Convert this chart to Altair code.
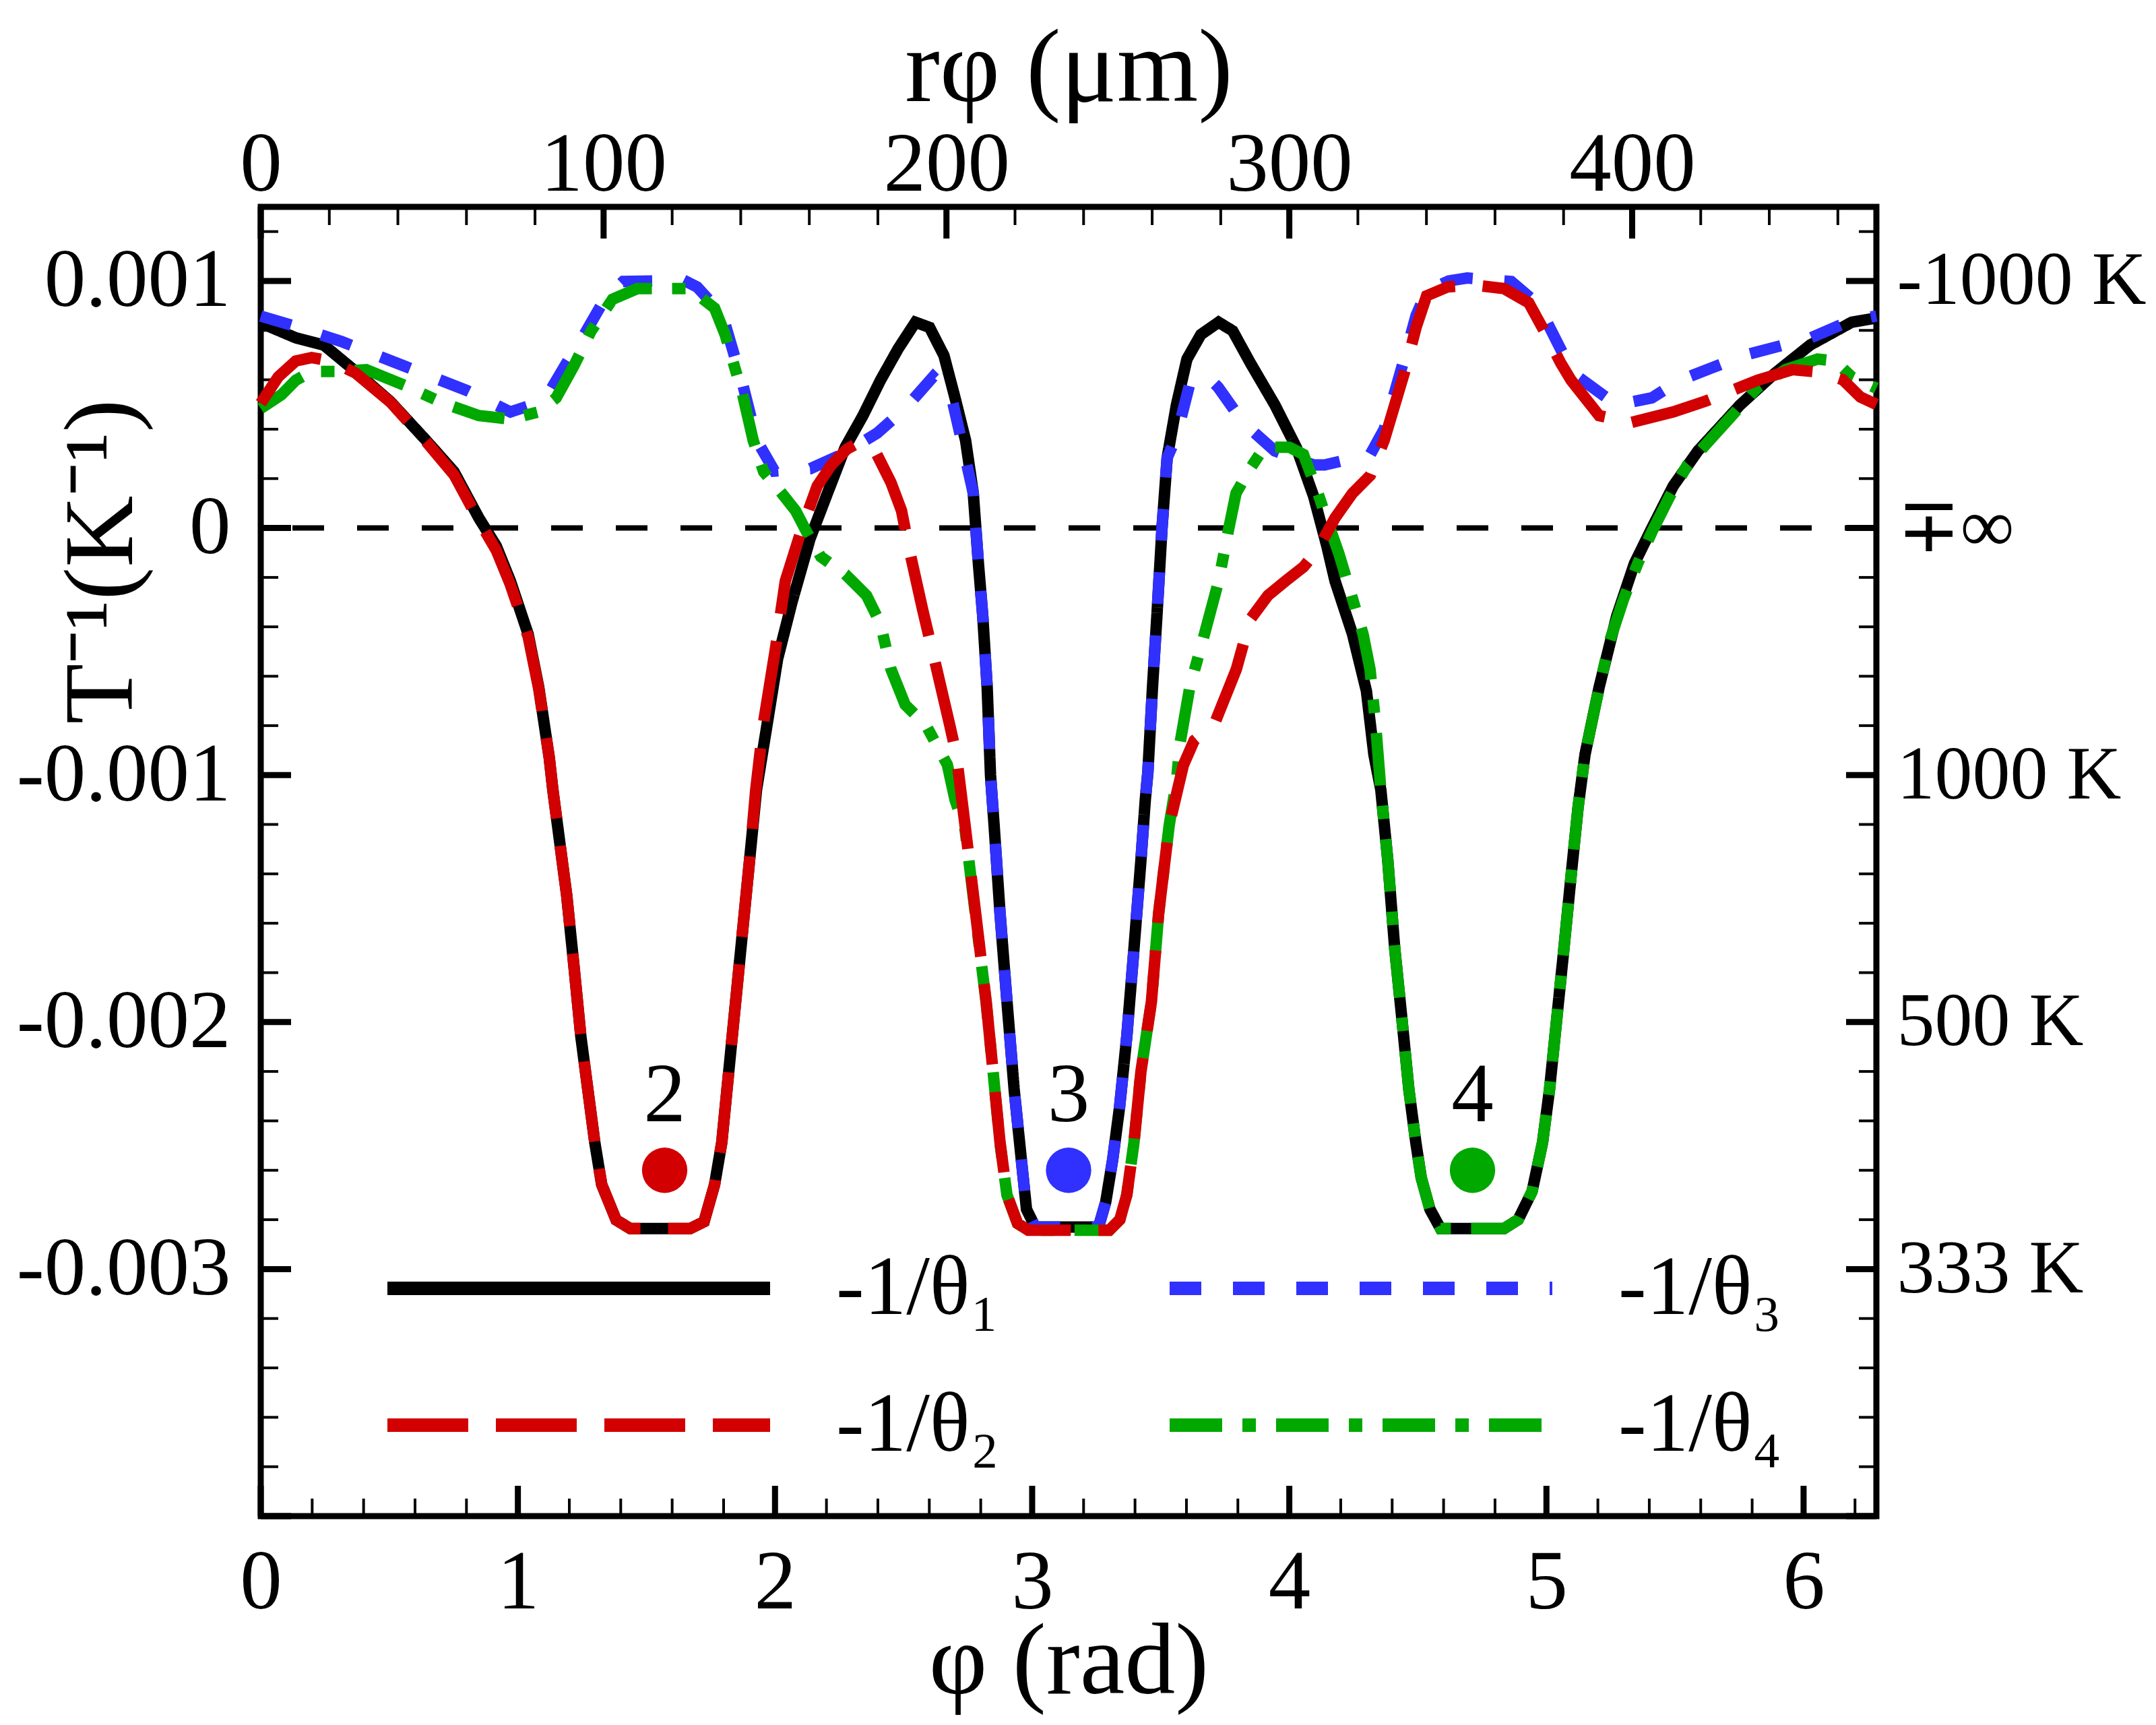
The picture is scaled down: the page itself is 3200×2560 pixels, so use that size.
import math
import altair as alt
import pandas as pd

FONT = "Liberation Serif, Times New Roman, serif"
W, H = 2398, 1943
R_UM = 75.0
PHI_MAX = 2 * math.pi
T_MIN, T_MAX = -4.0, 1.3  # units of 1e-3 K^-1

S1, S2, S3, S4 = "-1/θ₁", "-1/θ₂", "-1/θ₃", "-1/θ₄"

# ---- series -1/theta_1 (black, solid) ----
phi1 = [0.000, 0.136, 0.246, 0.369, 0.504, 0.643, 0.752, 0.848, 0.916, 0.971,
        1.040, 1.081, 1.122, 1.136, 1.163, 1.190, 1.218, 1.245, 1.272, 1.299,
        1.326, 1.382, 1.437, 1.670, 1.724, 1.765, 1.793, 1.820, 1.847, 1.874,
        1.901, 1.928, 1.970, 2.010, 2.066, 2.136, 2.204, 2.273, 2.342, 2.410,
        2.479, 2.546, 2.601, 2.657, 2.700, 2.741, 2.771, 2.791, 2.808, 2.825,
        2.838, 2.852, 2.875, 2.902, 2.930, 2.958, 2.978, 3.012, 3.258, 3.286,
        3.313, 3.340, 3.368, 3.396, 3.423, 3.440, 3.450, 3.468, 3.485, 3.505,
        3.525, 3.561, 3.602, 3.656, 3.725, 3.780, 3.848, 3.944, 4.027, 4.095,
        4.146, 4.178, 4.246, 4.300, 4.329, 4.356, 4.383, 4.410, 4.438, 4.465,
        4.492, 4.513, 4.547, 4.588, 4.835, 4.890, 4.944, 4.985, 5.012, 5.040,
        5.068, 5.095, 5.123, 5.150, 5.205, 5.273, 5.342, 5.410, 5.493, 5.589,
        5.753, 5.889, 6.026, 6.187, 6.2832]
t1 = [0.830, 0.770, 0.740, 0.634, 0.512, 0.355, 0.227, 0.041, -0.073, -0.215,
      -0.430, -0.644, -0.930, -1.060, -1.274, -1.488, -1.773, -2.059, -2.273, -2.487,
      -2.658, -2.801, -2.836, -2.836, -2.808, -2.658, -2.487, -2.201, -1.916, -1.630,
      -1.345, -1.060, -0.790, -0.530, -0.300, -0.044, 0.141, 0.327, 0.455, 0.598,
      0.726, 0.833, 0.812, 0.698, 0.527, 0.355, 0.141, -0.144, -0.358, -0.644,
      -1.000, -1.203, -1.559, -1.916, -2.273, -2.558, -2.758, -2.830, -2.830, -2.729,
      -2.558, -2.344, -2.059, -1.702, -1.345, -1.100, -0.988, -0.644, -0.358, 0.000,
      0.284, 0.498, 0.684, 0.783, 0.833, 0.798, 0.669, 0.498, 0.327, 0.127,
      -0.073, -0.215, -0.430, -0.660, -0.917, -1.060, -1.345, -1.702, -1.988, -2.273,
      -2.487, -2.630, -2.758, -2.836, -2.836, -2.800, -2.686, -2.487, -2.273, -1.988,
      -1.702, -1.417, -1.131, -0.917, -0.644, -0.358, -0.144, 0.000, 0.170, 0.312,
      0.498, 0.627, 0.741, 0.833, 0.850]

# ---- series -1/theta_2 (red, long dash) ----
phi2 = [0.000, 0.068, 0.136, 0.198, 0.273, 0.369, 0.504, 0.643, 0.752, 0.848,
        0.916, 0.971, 1.040, 1.081, 1.122, 1.136, 1.163, 1.190, 1.218, 1.245,
        1.272, 1.299, 1.326, 1.382, 1.437, 1.670, 1.724, 1.765, 1.793, 1.820,
        1.847, 1.874, 1.901, 1.925, 1.955, 2.000, 2.040, 2.105, 2.164, 2.219,
        2.280, 2.329, 2.396, 2.451, 2.492, 2.519, 2.574, 2.629, 2.680, 2.705,
        2.739, 2.780, 2.821, 2.848, 2.875, 2.902, 2.943, 2.985, 3.300, 3.341,
        3.368, 3.396, 3.423, 3.464, 3.492, 3.533, 3.588, 3.630, 3.710, 3.794,
        3.848, 3.917, 3.985, 4.055, 4.110, 4.178, 4.246, 4.315, 4.369, 4.410,
        4.451, 4.493, 4.534, 4.616, 4.725, 4.835, 4.931, 4.999, 5.055, 5.096,
        5.205, 5.329, 5.493, 5.615, 5.821, 5.957, 6.068, 6.153, 6.221, 6.2832]
t2 = [0.505, 0.612, 0.676, 0.690, 0.676, 0.627, 0.510, 0.350, 0.215, 0.030,
      -0.090, -0.230, -0.440, -0.650, -0.930, -1.060, -1.274, -1.488, -1.773, -2.059,
      -2.273, -2.487, -2.658, -2.801, -2.836, -2.836, -2.808, -2.658, -2.487, -2.201,
      -1.916, -1.630, -1.345, -1.060, -0.790, -0.500, -0.215, 0.000, 0.170, 0.255,
      0.320, 0.348, 0.298, 0.184, 0.070, -0.073, -0.330, -0.572, -0.800, -0.917,
      -1.203, -1.559, -1.916, -2.201, -2.487, -2.700, -2.815, -2.843, -2.843, -2.800,
      -2.700, -2.487, -2.201, -1.916, -1.559, -1.203, -0.960, -0.860, -0.790, -0.572,
      -0.370, -0.273, -0.215, -0.158, -0.087, 0.041, 0.141, 0.213, 0.355, 0.498,
      0.641, 0.812, 0.940, 0.976, 0.983, 0.969, 0.912, 0.783, 0.669, 0.598,
      0.455, 0.427, 0.470, 0.512, 0.598, 0.641, 0.630, 0.600, 0.530, 0.500]

# ---- series -1/theta_3 (blue, short dash) ----
phi3 = [0.000, 0.123, 0.314, 0.560, 0.805, 0.971, 1.054, 1.121, 1.190, 1.258,
        1.341, 1.409, 1.532, 1.641, 1.697, 1.765, 1.806, 1.874, 1.929, 1.998,
        2.137, 2.260, 2.397, 2.506, 2.615, 2.684, 2.725, 2.771, 2.791, 2.808,
        2.825, 2.838, 2.852, 2.875, 2.902, 2.930, 2.958, 2.978, 3.012, 3.258,
        3.286, 3.313, 3.340, 3.368, 3.396, 3.423, 3.440, 3.450, 3.468, 3.485,
        3.505, 3.525, 3.561, 3.613, 3.683, 3.724, 3.820, 3.944, 4.095, 4.137,
        4.315, 4.369, 4.410, 4.451, 4.493, 4.534, 4.620, 4.692, 4.863, 4.944,
        4.999, 5.082, 5.123, 5.273, 5.410, 5.519, 5.766, 6.026, 6.187, 6.2832]
t3 = [0.858, 0.820, 0.755, 0.655, 0.555, 0.470, 0.498, 0.548, 0.669, 0.783,
      0.933, 0.998, 1.000, 1.005, 0.976, 0.898, 0.826, 0.584, 0.355, 0.230,
      0.240, 0.298, 0.384, 0.484, 0.612, 0.541, 0.355, 0.141, -0.144, -0.358,
      -0.644, -1.000, -1.203, -1.559, -1.916, -2.273, -2.558, -2.758, -2.830, -2.830,
      -2.729, -2.558, -2.344, -2.059, -1.702, -1.345, -1.100, -0.988, -0.644, -0.358,
      0.000, 0.284, 0.370, 0.584, 0.612, 0.569, 0.427, 0.312, 0.255, 0.255,
      0.298, 0.400, 0.550, 0.700, 0.860, 0.960, 1.000, 1.012, 0.998, 0.926,
      0.840, 0.669, 0.612, 0.498, 0.527, 0.598, 0.698, 0.769, 0.841, 0.858]

# ---- series -1/theta_4 (green, dash-dot) ----
phi4 = [0.000, 0.081, 0.136, 0.198, 0.300, 0.410, 0.560, 0.711, 0.848, 0.971,
        1.081, 1.149, 1.217, 1.285, 1.368, 1.464, 1.668, 1.765, 1.806, 1.874,
        1.915, 1.956, 2.026, 2.080, 2.123, 2.178, 2.273, 2.356, 2.410, 2.451,
        2.506, 2.588, 2.670, 2.700, 2.739, 2.780, 2.821, 2.848, 2.875, 2.902,
        2.943, 2.985, 3.300, 3.341, 3.368, 3.396, 3.423, 3.464, 3.492, 3.533,
        3.561, 3.575, 3.613, 3.670, 3.725, 3.765, 3.793, 3.848, 3.903, 4.000,
        4.055, 4.105, 4.146, 4.192, 4.246, 4.287, 4.314, 4.335, 4.356, 4.383,
        4.410, 4.438, 4.465, 4.492, 4.513, 4.547, 4.588, 4.835, 4.890, 4.944,
        4.985, 5.012, 5.040, 5.068, 5.095, 5.123, 5.150, 5.191, 5.246, 5.300,
        5.355, 5.410, 5.479, 5.548, 5.684, 5.821, 5.930, 6.054, 6.122, 6.187,
        6.2832]
t4 = [0.484, 0.540, 0.598, 0.634, 0.634, 0.641, 0.577, 0.505, 0.455, 0.441,
      0.470, 0.527, 0.655, 0.798, 0.926, 0.969, 0.969, 0.890, 0.783, 0.541,
      0.355, 0.227, 0.141, 0.070, -0.016, -0.116, -0.187, -0.273, -0.387, -0.572,
      -0.715, -0.800, -0.958, -1.100, -1.220, -1.570, -1.920, -2.200, -2.490, -2.700,
      -2.815, -2.843, -2.843, -2.800, -2.700, -2.487, -2.200, -1.916, -1.559, -1.203,
      -1.026, -0.872, -0.644, -0.430, -0.215, 0.000, 0.141, 0.241, 0.327, 0.327,
      0.298, 0.160, 0.035, -0.101, -0.287, -0.430, -0.572, -0.786, -1.060, -1.345,
      -1.702, -1.988, -2.273, -2.487, -2.630, -2.758, -2.836, -2.836, -2.800, -2.686,
      -2.487, -2.273, -1.988, -1.702, -1.417, -1.131, -0.917, -0.715, -0.458, -0.287,
      -0.144, -0.016, 0.127, 0.255, 0.412, 0.569, 0.641, 0.684, 0.676, 0.612,
      0.566]

# ---- markers with labels ----
marker_phi = [1.5708, 3.1416, 4.7124]
marker_t = [-2.6, -2.6, -2.6]
marker_label = ["2", "3", "4"]
marker_series = [S2, S3, S4]

# ---- axis ticks ----
bottom_major = [0, 1, 2, 3, 4, 5, 6]
bottom_minor = [round(0.2 * i, 1) for i in range(32) if i % 5]
side_major = [-4, -3, -2, -1, 0, 1]
side_minor = [round(-4 + 0.2 * i, 1) for i in range(27) if i % 5]
side_labels = [1, 0, -1, -2, -3]
top_major_um = [0, 100, 200, 300, 400]
top_minor_um = [20 * k for k in range(24) if k % 5]

rows = []
for s, ph, tt in [(S1, phi1, t1), (S2, phi2, t2), (S3, phi3, t3), (S4, phi4, t4)]:
    for i, (p, t) in enumerate(zip(ph, tt)):
        rows.append({"series": s, "phi": p, "t": t, "i": i})
curves = pd.DataFrame(rows)
markers = pd.DataFrame({"phi": marker_phi, "t": marker_t,
                        "label": marker_label, "series": marker_series})

xs = alt.Scale(domain=[0, PHI_MAX], nice=False, zero=False)
ys = alt.Scale(domain=[T_MIN, T_MAX], nice=False, zero=False)

legend_order = [S1, S2, S3, S4]
color_scale = alt.Scale(domain=legend_order,
                        range=["#000000", "#d20000", "#3030ff", "#00a800"])
dash_scale = alt.Scale(domain=legend_order,
                       range=[[1, 0], [120, 41], [47, 47], [78, 30, 20, 30]])

common = dict(ticks=False, tickSize=0, domain=False, grid=False,
              labelFlush=False, labelOverlap=False, labelLimit=0)

bottom_axis = alt.Axis(orient="bottom", values=bottom_major, format="d",
                       labelFontSize=125, labelPadding=136, labelBaseline="alphabetic",
                       title="φ (rad)", titleFontSize=150, titleX=W / 2, titleY=262,
                       titleBaseline="alphabetic", titleAlign="center", **common)
left_axis = alt.Axis(orient="left", values=side_labels,
                     labelExpr="datum.value == 0 ? '0' : (datum.value < 0 ? '-' : '') + format(abs(datum.value) / 1000, '.3f')",
                     labelFontSize=123, labelPadding=45, labelBaseline="middle",
                     labelAlign="right",
                     title="T⁻¹(K⁻¹)", titleFontSize=147, titleAngle=270,
                     titleX=-192, titleY=526, titleBaseline="alphabetic",
                     titleAlign="center", **common)
top_axis = alt.Axis(orient="top", values=[u / R_UM for u in top_major_um],
                    labelExpr="format(datum.value * 75, '.0f')",
                    labelFontSize=125, labelPadding=25, labelBaseline="alphabetic",
                    title="rφ (μm)", titleFontSize=155, titleX=W / 2, titleY=-158,
                    titleBaseline="alphabetic", titleAlign="center", **common)
right_axis = alt.Axis(orient="right", values=side_labels,
                      labelExpr="datum.value == 0 ? '∓∞' : (datum.value > 0 ? '-' : '') + format(1000 / abs(datum.value), '.0f') + ' K'",
                      labelFontSize=112, labelPadding=30, labelBaseline="middle",
                      labelAlign="left", title="", **common)

legend = alt.Legend(orient="none", legendX=178, legendY=1555, columns=2,
                    symbolType="stroke", symbolSize=322624, symbolStrokeWidth=20,
                    clipHeight=100, labelOffset=88, columnPadding=242, rowPadding=78,
                    labelFont=FONT, labelFontSize=125, labelLimit=0, padding=0,
                    title=None)


def curve(s, with_axes=False):
    xkw = {"axis": bottom_axis} if with_axes else {}
    ykw = {"axis": left_axis} if with_axes else {}
    return alt.Chart(curves).transform_filter(alt.datum.series == s).mark_line(
        strokeWidth=17, strokeCap="butt", strokeJoin="miter"
    ).encode(
        x=alt.X("phi:Q", scale=xs, **xkw),
        y=alt.Y("t:Q", scale=ys, **ykw),
        color=alt.Color("series:N", scale=color_scale, legend=legend),
        strokeDash=alt.StrokeDash("series:N", scale=dash_scale, legend=legend),
        order="i:Q",
    )


zero_line = alt.Chart(pd.DataFrame({"t": [0.0]})).mark_rule(
    color="black", strokeWidth=8, strokeDash=[47, 49]
).encode(y=alt.Y("t:Q", scale=ys))


def yticks(vals, length, width):
    return alt.Chart(pd.DataFrame({"v": vals})).mark_rule(
        color="black", strokeWidth=width
    ).encode(y=alt.Y("v:Q", scale=ys), x=alt.value(0), x2=alt.value(length))


def xticks(vals, length, width):
    return alt.Chart(pd.DataFrame({"v": vals})).mark_rule(
        color="black", strokeWidth=width
    ).encode(x=alt.X("v:Q", scale=xs), y=alt.value(H), y2=alt.value(H - length))


pts = alt.Chart(markers).mark_circle(size=4536, opacity=1).encode(
    x=alt.X("phi:Q", scale=xs),
    y=alt.Y("t:Q", scale=ys),
    color=alt.Color("series:N", scale=color_scale, legend=None),
)
pt_labels = alt.Chart(markers).mark_text(
    font=FONT, fontSize=125, dy=-73, baseline="alphabetic", align="center", color="black"
).encode(
    x=alt.X("phi:Q", scale=xs),
    y=alt.Y("t:Q", scale=ys),
    text="label:N",
)

main = alt.layer(
    curve(S1, with_axes=True),
    zero_line,
    yticks(side_major, 45, 9), yticks(side_minor, 26, 4),
    xticks(bottom_major, 45, 9), xticks(bottom_minor, 26, 4),
    curve(S3), curve(S4), curve(S2),
    pts, pt_labels,
)

top_ticks_major = alt.Chart(pd.DataFrame({"um": top_major_um})).transform_calculate(
    p="datum.um / 75").mark_rule(color="black", strokeWidth=9).encode(
    x=alt.X("p:Q", scale=xs, axis=top_axis), y=alt.value(0), y2=alt.value(47))
top_ticks_minor = alt.Chart(pd.DataFrame({"um": top_minor_um})).transform_calculate(
    p="datum.um / 75").mark_rule(color="black", strokeWidth=4).encode(
    x=alt.X("p:Q", scale=xs), y=alt.value(0), y2=alt.value(27))
right_major = alt.Chart(pd.DataFrame({"v": side_major})).mark_rule(
    color="black", strokeWidth=9).encode(
    y=alt.Y("v:Q", scale=ys, axis=right_axis), x=alt.value(W - 45), x2=alt.value(W))
right_minor = alt.Chart(pd.DataFrame({"v": side_minor})).mark_rule(
    color="black", strokeWidth=4).encode(
    y=alt.Y("v:Q", scale=ys), x=alt.value(W - 26), x2=alt.value(W))

secondary = alt.layer(top_ticks_major, top_ticks_minor, right_major, right_minor)

chart = alt.layer(main, secondary).resolve_scale(
    x="independent", y="independent"
).properties(
    width=W, height=H,
    padding={"left": 379, "top": 299, "right": 407, "bottom": 302},
    autosize=alt.AutoSizeParams(type="none"),
    background="white",
).configure_view(
    stroke="black", strokeWidth=9
).configure_axis(
    labelFont=FONT, titleFont=FONT, labelColor="black", titleColor="black",
    titleFontWeight="normal"
)

chart.save("out.html", embed_options={"renderer": "svg", "actions": False})
